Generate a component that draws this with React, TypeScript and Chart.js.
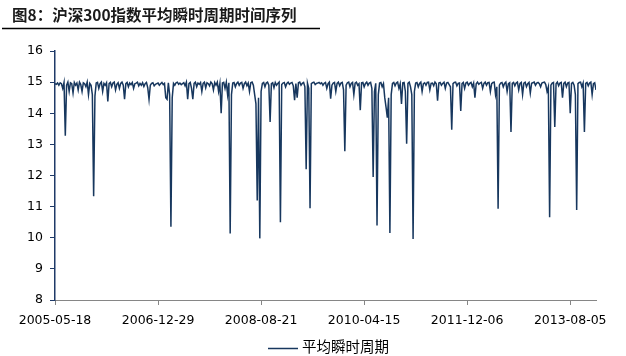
import React, { useEffect, useRef } from 'react';
import { Chart, registerables } from 'chart.js';

Chart.register(...registerables);

const titleText = '图8：沪深300指数平均瞬时周期时间序列';
const seriesName = '平均瞬时周期';

// one sample every 5 trading days
const sampleStep = 5;
const xTickIndex = [0, 400, 800, 1200, 1600, 2000];
const xTickLabels = ['2005-05-18', '2006-12-29', '2008-08-21', '2010-04-15', '2011-12-06', '2013-08-05'];
const xMax = 2100;
const yMin = 8;
const yMax = 16;

const values: number[] = [
  14.95, 14.93, 14.97, 14.9, 14.98, 14.95, 14.8, 14.99, 13.28, 14.9, 15.0, 14.7, 14.98, 14.95, 14.65, 14.99, 14.9, 14.97, 14.75, 15.0,
  14.92, 14.7, 14.98, 14.95, 14.85, 15.0, 14.6, 14.96, 14.9, 14.6, 11.33, 14.55, 14.97, 14.99, 14.8, 14.95, 15.0, 14.7, 14.96, 14.9,
  14.98, 14.38, 14.95, 14.99, 14.85, 14.97, 15.0, 14.75, 14.93, 14.98, 14.8, 14.96, 15.0, 14.9, 14.45, 14.95, 14.99, 14.85, 14.97, 14.92,
  14.99, 14.8, 14.95, 14.97, 15.0, 14.88, 14.96, 14.9, 14.98, 14.86, 14.95, 14.99, 14.82, 14.45, 14.9, 14.96, 14.98, 14.88, 14.93, 14.95,
  14.97, 14.9, 14.95, 14.99, 14.92, 14.96, 14.5, 14.45, 14.98, 14.6, 10.35, 14.5, 14.96, 14.9, 14.98, 15.0, 14.93, 14.97, 14.92, 14.95,
  14.98, 14.88, 15.0, 14.45, 14.95, 14.99, 14.8, 14.45, 14.96, 15.0, 14.85, 14.97, 14.93, 14.99, 14.7, 14.96, 15.0, 14.82, 14.98, 14.95,
  14.88, 15.0, 14.95, 14.75, 14.99, 14.9, 15.0, 14.7, 14.95, 14.0, 14.97, 14.99, 14.8, 15.0, 14.6, 14.98, 10.14, 14.6, 14.97, 14.99,
  14.85, 14.96, 15.0, 14.9, 14.97, 14.99, 14.8, 14.95, 15.0, 14.88, 14.97, 14.7, 14.98, 15.0, 14.9, 14.6, 14.3, 11.2, 14.5, 9.98,
  14.7, 14.96, 14.99, 14.85, 14.97, 15.0, 14.9, 13.72, 14.95, 14.98, 14.82, 14.99, 14.9, 14.96, 15.0, 10.5, 14.92, 14.97, 14.99, 14.85,
  14.96, 15.0, 14.93, 14.97, 14.99, 14.88, 14.42, 14.95, 14.5, 14.98, 15.0, 14.9, 14.96, 14.99, 14.85, 12.2, 14.97, 14.8, 10.95, 14.95,
  14.98, 15.0, 14.92, 14.96, 14.97, 14.99, 14.95, 14.98, 14.9, 14.96, 14.99, 14.8, 14.95, 15.0, 14.47, 14.9, 14.97, 14.99, 14.7, 14.96,
  15.0, 14.88, 14.97, 14.99, 14.75, 12.78, 14.9, 14.98, 15.0, 14.85, 14.96, 14.99, 14.6, 14.97, 15.0, 14.9, 14.95, 14.1, 14.98, 14.99,
  14.85, 14.96, 15.0, 14.9, 14.97, 14.99, 14.8, 11.95, 14.7, 14.96, 10.39, 14.6, 14.97, 14.99, 14.85, 14.95, 14.5, 14.2, 13.86, 14.5,
  10.15, 14.6, 14.96, 14.99, 14.88, 14.97, 15.0, 14.8, 14.95, 14.3, 14.98, 14.99, 14.7, 13.02, 14.96, 15.0, 14.85, 14.6, 9.96, 14.7,
  14.97, 14.99, 14.85, 14.96, 15.0, 14.7, 14.95, 14.98, 14.9, 14.99, 15.0, 14.75, 14.96, 14.97, 14.88, 15.0, 14.95, 14.4, 14.97, 14.99,
  14.9, 14.96, 15.0, 14.8, 14.97, 14.99, 14.92, 14.85, 13.47, 14.95, 14.99, 15.0, 14.88, 14.96, 14.97, 14.07, 14.95, 14.99, 14.8, 14.97,
  15.0, 14.9, 14.96, 14.99, 14.85, 14.97, 14.5, 14.95, 15.0, 14.93, 14.97, 14.99, 14.8, 14.96, 15.0, 14.9, 14.98, 14.99, 14.7, 14.95,
  14.99, 15.0, 14.6, 14.85, 10.93, 14.9, 14.97, 14.99, 14.85, 14.96, 15.0, 14.7, 14.95, 14.98, 13.4, 14.96, 14.99, 14.88, 14.97, 15.0,
  14.75, 14.96, 14.99, 14.6, 14.97, 15.0, 14.85, 14.95, 14.99, 14.65, 14.96, 14.98, 15.0, 14.9, 14.97, 14.99, 14.95, 14.85, 14.97, 14.99,
  15.0, 14.92, 14.7, 14.85, 10.66, 14.9, 14.97, 14.99, 13.56, 14.95, 15.0, 14.88, 14.97, 14.99, 14.5, 14.96, 15.0, 14.85, 14.97, 14.99,
  14.0, 14.96, 14.99, 14.9, 14.6, 10.89, 14.95, 14.99, 15.0, 14.85, 14.97, 13.4, 14.96, 14.99, 14.88, 14.97, 15.0, 14.6, 14.95, 14.98, 14.75,
];

const lineColor = '#17375E';
const tickFont = { family: "'DejaVu Sans', sans-serif", size: 12.5 };

const decorPlugin = {
  id: 'decor',
  afterDraw(chart: any) {
    const ctx = chart.ctx as CanvasRenderingContext2D;
    ctx.save();
    // title
    ctx.fillStyle = '#1a1a1a';
    ctx.font = "bold 15.5px 'Noto Sans CJK SC', sans-serif";
    ctx.textBaseline = 'middle';
    ctx.textAlign = 'left';
    ctx.fillText(titleText, 12, 15);
    // rule under title
    ctx.strokeStyle = '#000';
    ctx.lineWidth = 1.6;
    ctx.beginPath();
    ctx.moveTo(2, 28.5);
    ctx.lineTo(320, 28.5);
    ctx.stroke();
    // legend
    ctx.strokeStyle = lineColor;
    ctx.lineWidth = 1.5;
    ctx.beginPath();
    ctx.moveTo(268, 348.5);
    ctx.lineTo(298, 348.5);
    ctx.stroke();
    ctx.fillStyle = '#000';
    ctx.font = "14.5px 'Noto Sans CJK SC', sans-serif";
    ctx.fillText(seriesName, 302, 346);
    ctx.restore();
  },
};

export default function App() {
  const canvasRef = useRef<HTMLCanvasElement | null>(null);

  useEffect(() => {
    const canvas = canvasRef.current;
    if (!canvas) return;
    const data = values.map((v, i) => ({ x: i * sampleStep, y: v }));
    const chart = new Chart(canvas, {
      type: 'line',
      data: {
        datasets: [
          {
            label: seriesName,
            data,
            borderColor: lineColor,
            backgroundColor: lineColor,
            borderWidth: 1.5,
            pointRadius: 0,
            tension: 0,
          },
        ],
      },
      options: {
        responsive: false,
        animation: false,
        devicePixelRatio: 1,
        layout: { padding: { left: 0, right: 30, top: 51, bottom: 0 } },
        plugins: {
          legend: { display: false },
          title: { display: false },
          tooltip: { enabled: false },
        },
        scales: {
          x: {
            type: 'linear',
            min: 0,
            max: xMax,
            afterBuildTicks: (s: any) => {
              s.ticks = xTickIndex.map((v) => ({ value: v }));
            },
            afterFit: (s: any) => {
              s.height = 56;
            },
            grid: { drawOnChartArea: false, drawTicks: true, tickLength: 5, color: '#868686' },
            border: { color: '#868686', width: 1 },
            ticks: {
              autoSkip: false,
              maxRotation: 0,
              padding: 8,
              color: '#000',
              font: tickFont,
              callback: (v: any) => {
                const k = xTickIndex.indexOf(Number(v));
                return k >= 0 ? xTickLabels[k] : '';
              },
            },
          },
          y: {
            min: yMin,
            max: yMax,
            afterFit: (s: any) => {
              s.width = 55;
            },
            grid: { drawOnChartArea: false, drawTicks: true, tickLength: 5, color: '#1F3A68' },
            border: { color: '#1F3A68', width: 1.5 },
            ticks: { stepSize: 1, padding: 7, color: '#000', font: tickFont },
          },
        },
      },
      plugins: [decorPlugin],
    });
    return () => chart.destroy();
  }, []);

  return (
    <div style={{ position: 'fixed', left: 0, top: 0, width: 626, height: 356, background: '#fff' }}>
      <canvas ref={canvasRef} width={626} height={356} style={{ width: 626, height: 356, display: 'block' }} />
    </div>
  );
}
